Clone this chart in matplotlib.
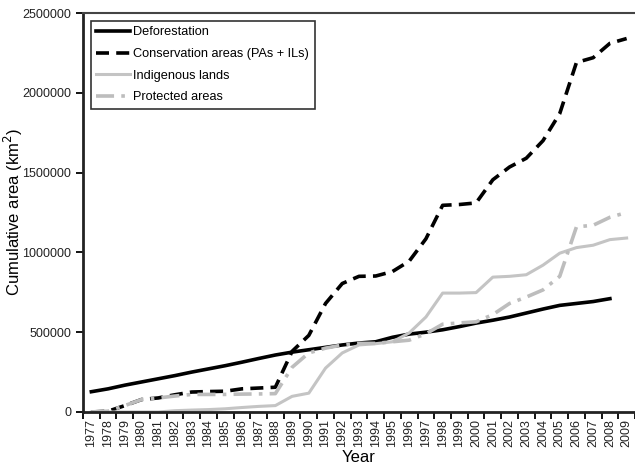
import numpy as np
import matplotlib.pyplot as plt

plt.rcParams['font.family'] = ['Liberation Sans', 'DejaVu Sans']

years = [str(y) for y in range(1977, 2010)]

deforestation = [127000, 145000, 168000, 188000, 208000, 228000, 250000, 270000,
                 290000, 312000, 335000, 357000, 375000, 390000, 405000, 420000,
                 432000, 440000, 468000, 488000, 500000, 515000, 535000, 557000,
                 575000, 595000, 620000, 645000, 668000, 680000, 692000, 710000,
                 np.nan]
conservation = [0, 5000, 40000, 78000, 88000, 108000, 125000, 128000,
                130000, 145000, 150000, 155000, 380000, 480000, 680000, 805000,
                850000, 852000, 880000, 945000, 1085000, 1295000, 1300000, 1310000,
                1455000, 1535000, 1590000, 1700000, 1870000, 2190000, 2220000, 2310000,
                2340000]
indigenous = [0, 0, 0, 0, 0, 8000, 12000, 15000,
              20000, 28000, 35000, 40000, 98000, 118000, 275000, 370000,
              420000, 428000, 440000, 495000, 595000, 745000, 745000, 748000,
              845000, 850000, 860000, 920000, 995000, 1030000, 1045000, 1080000,
              1090000]
protected = [0, 5000, 40000, 78000, 88000, 100000, 110000, 110000,
             110000, 112000, 113000, 115000, 280000, 370000, 400000, 420000,
             430000, 430000, 440000, 450000, 490000, 550000, 558000, 565000,
             610000, 680000, 720000, 765000, 850000, 1160000, 1170000, 1220000,
             1250000]

x = np.arange(len(years))

fig = plt.figure(figsize=(6.35, 4.68), dpi=100)
ax = fig.add_axes([0.1307, 0.1197, 0.8693, 0.8525])

ax.plot(x, deforestation, color='black', lw=2.6, label='Deforestation')
ax.plot(x, conservation, color='black', lw=2.6, ls=(0, (3.6, 2)),
        label='Conservation areas (PAs + ILs)')
ax.plot(x, indigenous, color='#c4c4c4', lw=2.2, label='Indigenous lands')
ax.plot(x, protected, color='#bdbdbd', lw=2.6, ls=(0, (5, 2, 1, 2)),
        label='Protected areas')

ax.set_xlim(-0.5, len(years) - 0.5)
ax.set_ylim(0, 2500000)
ax.set_yticks([0, 500000, 1000000, 1500000, 2000000, 2500000])
ax.set_yticklabels(['0', '500000', '1000000', '1500000', '2000000', '2500000'],
                   fontsize=9, color='#222222')

ax.set_xticks(x)
ax.set_xticklabels(years, rotation=90, fontsize=9, color='#222222')
ax.tick_params(axis='x', which='major', length=0, pad=5)
ax.set_xticks(np.arange(-0.5, len(years)), minor=True)
ax.tick_params(axis='x', which='minor', length=5, width=1.3, direction='out')
ax.tick_params(axis='y', length=5, width=1.3, direction='out')

for s in ['left', 'bottom']:
    ax.spines[s].set_linewidth(2)
    ax.spines[s].set_color('#222222')
ax.spines['top'].set_linewidth(1.5)
ax.spines['top'].set_color('#444444')
ax.spines['right'].set_visible(False)

ax.set_xlabel('Year', fontsize=12, labelpad=2)
ax.set_ylabel('Cumulative area (km$^2$)', fontsize=12)
ax.yaxis.set_label_coords(-0.105, 0.5)

leg = ax.legend(loc='upper left', fontsize=9.2, frameon=True, fancybox=False,
                edgecolor='black', handlelength=2.6, handletextpad=0.3,
                labelspacing=0.75, borderaxespad=0.6, borderpad=0.45)
leg.get_frame().set_linewidth(1.2)

fig.savefig('out.png', dpi=100)
